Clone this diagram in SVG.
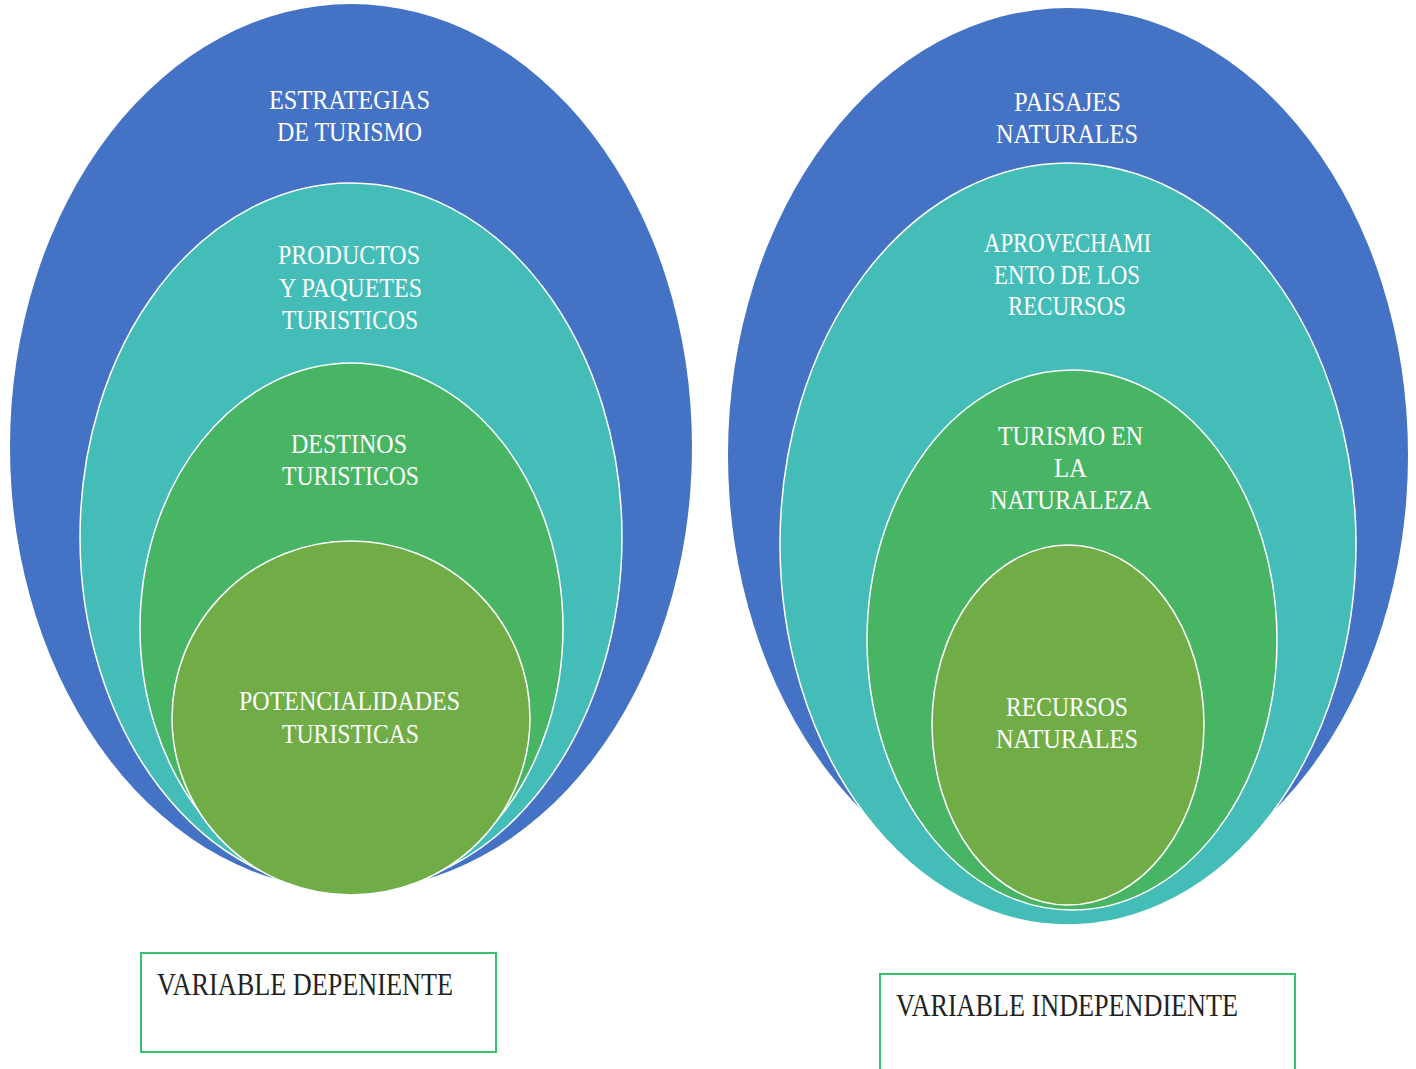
<svg xmlns="http://www.w3.org/2000/svg" width="1416" height="1069" viewBox="0 0 1416 1069">
<style>
.blue{fill:#4472C4;}
.teal{fill:#44BDB8;stroke:#FFFFFF;stroke-width:1.5;}
.green{fill:#47B564;stroke:#FFFFFF;stroke-width:1.5;}
.lgreen{fill:#71AD47;stroke:#FFFFFF;stroke-width:1.5;}
.lbl{font-family:"Liberation Serif","Times New Roman",serif;font-size:28px;fill:#FFFFFF;}
.box{fill:#FFFFFF;stroke:#35C46E;stroke-width:2;}
.btxt{font-family:"Liberation Serif","Times New Roman",serif;font-size:32px;fill:#222222;}
</style>
<rect width="1416" height="1069" fill="#FFFFFF"/>
<g id="left-set">
  <g id="estrategias">
    <ellipse class="blue" cx="351" cy="447" rx="341" ry="443"/>
    <text class="lbl" x="269" y="109" textLength="161" lengthAdjust="spacingAndGlyphs">ESTRATEGIAS</text>
    <text class="lbl" x="277" y="141" textLength="145" lengthAdjust="spacingAndGlyphs">DE TURISMO</text>
  </g>
  <g id="productos">
    <ellipse class="teal" cx="351" cy="537" rx="271" ry="354"/>
    <text class="lbl" x="278" y="264" textLength="142" lengthAdjust="spacingAndGlyphs">PRODUCTOS</text>
    <text class="lbl" x="279" y="297" textLength="143" lengthAdjust="spacingAndGlyphs">Y PAQUETES</text>
    <text class="lbl" x="282" y="329" textLength="136" lengthAdjust="spacingAndGlyphs">TURISTICOS</text>
  </g>
  <g id="destinos">
    <ellipse class="green" cx="351.5" cy="628" rx="211.5" ry="265"/>
    <text class="lbl" x="291" y="453" textLength="116" lengthAdjust="spacingAndGlyphs">DESTINOS</text>
    <text class="lbl" x="282" y="485" textLength="137" lengthAdjust="spacingAndGlyphs">TURISTICOS</text>
  </g>
  <g id="potencialidades">
    <ellipse class="lgreen" cx="351" cy="718" rx="179" ry="177"/>
    <text class="lbl" x="239" y="710" textLength="221" lengthAdjust="spacingAndGlyphs">POTENCIALIDADES</text>
    <text class="lbl" x="282" y="743" textLength="137" lengthAdjust="spacingAndGlyphs">TURISTICAS</text>
  </g>
</g>
<g id="right-set">
  <g id="paisajes">
    <ellipse class="blue" cx="1068" cy="455" rx="340" ry="447"/>
    <text class="lbl" x="1014" y="111" textLength="107" lengthAdjust="spacingAndGlyphs">PAISAJES</text>
    <text class="lbl" x="996" y="143" textLength="142" lengthAdjust="spacingAndGlyphs">NATURALES</text>
  </g>
  <g id="aprovechamiento">
    <ellipse class="teal" cx="1068" cy="544" rx="288" ry="381"/>
    <text class="lbl" x="984" y="252" textLength="167" lengthAdjust="spacingAndGlyphs">APROVECHAMI</text>
    <text class="lbl" x="994" y="284" textLength="146" lengthAdjust="spacingAndGlyphs">ENTO DE LOS</text>
    <text class="lbl" x="1008" y="315" textLength="118" lengthAdjust="spacingAndGlyphs">RECURSOS</text>
  </g>
  <g id="turismo-naturaleza">
    <ellipse class="green" cx="1072" cy="640" rx="205" ry="270"/>
    <text class="lbl" x="998" y="445" textLength="145" lengthAdjust="spacingAndGlyphs">TURISMO EN</text>
    <text class="lbl" x="1054" y="477" textLength="33" lengthAdjust="spacingAndGlyphs">LA</text>
    <text class="lbl" x="990" y="509" textLength="161" lengthAdjust="spacingAndGlyphs">NATURALEZA</text>
  </g>
  <g id="recursos-naturales">
    <ellipse class="lgreen" cx="1068" cy="725" rx="136" ry="180"/>
    <text class="lbl" x="1006" y="716" textLength="122" lengthAdjust="spacingAndGlyphs">RECURSOS</text>
    <text class="lbl" x="996" y="748" textLength="142" lengthAdjust="spacingAndGlyphs">NATURALES</text>
  </g>
</g>
<g id="box-dependiente">
  <rect class="box" x="141" y="953" width="355" height="99"/>
  <text class="btxt" x="157" y="995" textLength="296" lengthAdjust="spacingAndGlyphs">VARIABLE DEPENIENTE</text>
</g>
<g id="box-independiente">
  <rect class="box" x="880" y="974" width="415" height="110"/>
  <text class="btxt" x="896" y="1016" textLength="342" lengthAdjust="spacingAndGlyphs">VARIABLE INDEPENDIENTE</text>
</g>
<g id="connectors"></g>
</svg>
